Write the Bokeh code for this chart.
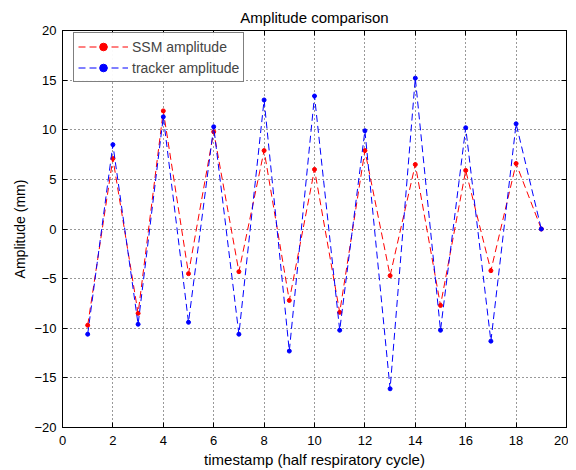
from bokeh.plotting import figure
from bokeh.models import LinearAxis, Range1d, FixedTicker, Legend, LegendItem
from bokeh.embed import file_html
from bokeh.resources import INLINE

timestamps = list(range(1, 20))
ssm_amplitude = [-9.7, 7.1, -8.5, 11.9, -4.5, 9.8, -4.3, 7.9, -7.2, 6.0,
                 -8.4, 7.9, -4.7, 6.5, -7.7, 5.9, -4.2, 6.6, 0.0]
tracker_amplitude = [-10.6, 8.5, -9.6, 11.3, -9.4, 10.3, -10.6, 13.0, -12.3, 13.4,
                     -10.2, 9.9, -16.1, 15.2, -10.2, 10.2, -11.3, 10.6, 0.0]
x_ticks = list(range(0, 21, 2))
y_ticks = list(range(-20, 21, 5))

FONT = "Liberation Sans"
FS = "13px"

p = figure(width=568, height=470, output_backend="svg", toolbar_location=None,
           x_range=Range1d(0, 20), y_range=Range1d(-20, 20),
           title="Amplitude comparison",
           min_border_left=62, min_border_right=2, min_border_top=30, min_border_bottom=41)

p.title.align = "center"
p.title.text_font = FONT
p.title.text_font_size = "15px"
p.title.text_font_style = "normal"
p.title.text_color = "black"
p.title.standoff = 6
p.title.vertical_align = "top"
p.title.text_line_height = 1.0

p.outline_line_color = "black"
p.outline_line_width = 1

for ax in (p.xaxis[0], p.yaxis[0]):
    ax.major_tick_in = 5
    ax.major_tick_out = 0
    ax.minor_tick_in = 0
    ax.minor_tick_out = 0
    ax.major_label_text_font = FONT
    ax.major_label_text_font_size = FS
    ax.major_label_text_color = "black"
    ax.axis_label_text_font = FONT
    ax.axis_label_text_font_style = "normal"
    ax.axis_label_text_color = "black"
    ax.axis_line_color = "black"

p.xaxis[0].ticker = FixedTicker(ticks=x_ticks)
p.yaxis[0].ticker = FixedTicker(ticks=y_ticks)
p.xaxis[0].axis_label = "timestamp (half respiratory cycle)"
p.yaxis[0].axis_label = "Amplitude (mm)"
p.xaxis[0].axis_label_text_font_size = "15px"
p.yaxis[0].axis_label_text_font_size = "14px"
p.xaxis[0].major_label_standoff = 8
p.xaxis[0].axis_label_standoff = 3
p.yaxis[0].major_label_standoff = 6
p.yaxis[0].axis_label_standoff = 3

top = LinearAxis(ticker=FixedTicker(ticks=x_ticks),
                 major_label_overrides={t: "" for t in x_ticks},
                 major_tick_in=5, major_tick_out=0, minor_tick_in=0, minor_tick_out=0)
right = LinearAxis(ticker=FixedTicker(ticks=y_ticks),
                   major_label_overrides={t: "" for t in y_ticks},
                   major_tick_in=5, major_tick_out=0, minor_tick_in=0, minor_tick_out=0)
p.add_layout(top, "above")
p.add_layout(right, "right")

for g in (p.xgrid[0], p.ygrid[0]):
    g.grid_line_color = "black"
    g.grid_line_dash = "1 3"
    g.grid_line_alpha = 0.8
p.xgrid[0].ticker = FixedTicker(ticks=x_ticks)
p.ygrid[0].ticker = FixedTicker(ticks=y_ticks)

l1 = p.line(timestamps, ssm_amplitude, line_color="red", line_dash="7 4", line_width=1)
s1 = p.scatter(timestamps, ssm_amplitude, marker="circle", size=4, color="red")
l2 = p.line(timestamps, tracker_amplitude, line_color="blue", line_dash="7 4", line_width=1)
s2 = p.scatter(timestamps, tracker_amplitude, marker="circle", size=4, color="blue")

legend = Legend(items=[LegendItem(label="SSM amplitude", renderers=[l1, s1]),
                       LegendItem(label="tracker amplitude", renderers=[l2, s2])],
                location=(11, 345))
legend.label_text_font = FONT
legend.label_text_font_size = "14px"
legend.border_line_color = "black"
legend.margin = 0
legend.padding = 4
legend.spacing = 2
legend.glyph_width = 50
legend.label_height = 19
legend.glyph_height = 19
legend.label_standoff = 4
p.add_layout(legend, "center")

open("out.html", "w").write(file_html(p, INLINE))
